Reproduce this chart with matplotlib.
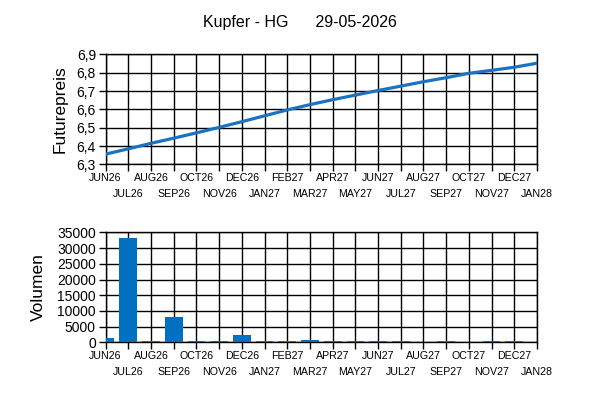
import matplotlib
matplotlib.use("Agg")
import matplotlib.pyplot as plt
from matplotlib.ticker import FuncFormatter, FixedLocator, FixedFormatter

plt.rcParams['font.family'] = ['Liberation Sans', 'DejaVu Sans']

months = ["JUN26", "JUL26", "AUG26", "SEP26", "OCT26", "NOV26", "DEC26", "JAN27",
          "FEB27", "MAR27", "APR27", "MAY27", "JUN27", "JUL27", "AUG27", "SEP27",
          "OCT27", "NOV27", "DEC27", "JAN28"]
prices = [6.356, 6.385, 6.415, 6.443, 6.472, 6.502, 6.533, 6.565, 6.597, 6.626,
          6.653, 6.678, 6.703, 6.727, 6.751, 6.773, 6.797, 6.813, 6.830, 6.852]
volumes = [1500, 33300, 450, 8000, 450, 450, 2300, 450, 450, 850,
           450, 450, 450, 450, 0, 450, 0, 450, 450, 0]
title = "Kupfer - HG      29-05-2026"

line_color = "#1a72c0"
bar_color = "#0070c0"

fig = plt.figure(figsize=(6, 4), dpi=100)
ax1 = fig.add_axes([0.176, 0.589, 0.719, 0.275])
ax2 = fig.add_axes([0.176, 0.144, 0.719, 0.275])

x = list(range(len(months)))
even_x = x[0::2]
odd_x = x[1::2]


def style_axis(ax):
    ax.set_xlim(0, len(months) - 1)
    ax.xaxis.set_major_locator(FixedLocator(even_x))
    ax.xaxis.set_major_formatter(FixedFormatter(months[0::2]))
    ax.xaxis.set_minor_locator(FixedLocator(odd_x))
    ax.xaxis.set_minor_formatter(FixedFormatter(months[1::2]))
    ax.grid(True, which="both", axis="x", color="black", linewidth=1.0)
    ax.grid(True, which="major", axis="y", color="black", linewidth=1.0)
    ax.set_axisbelow(True)
    ax.tick_params(axis='x', which='major', direction='out', length=5, width=1,
                   pad=1, labelsize=7.7)
    ax.tick_params(axis='x', which='minor', direction='out', length=5, width=1,
                   pad=13, labelsize=7.7)
    ax.tick_params(axis='y', direction='out', length=5, width=1, pad=2, labelsize=10)
    for s in ax.spines.values():
        s.set_color("black")
        s.set_linewidth(1.0)


ax1.plot(x, prices, color=line_color, linewidth=2.3, zorder=3)
style_axis(ax1)
ax1.set_ylim(6.3, 6.9)
ax1.set_yticks([6.3, 6.4, 6.5, 6.6, 6.7, 6.8, 6.9])
ax1.yaxis.set_major_formatter(FuncFormatter(lambda v, p: f"{v:.1f}".replace(".", ",")))
ax1.set_ylabel("Futurepreis", fontsize=12.5, labelpad=6.5)

ax2.bar(x, volumes, width=0.78, color=bar_color, zorder=3, clip_on=True)
style_axis(ax2)
ax2.set_ylim(0, 35000)
ax2.set_yticks(range(0, 35001, 5000))
ax2.set_ylabel("Volumen", fontsize=12.5, labelpad=8)

fig.text(0.5, 0.945, title, ha="center", va="center", fontsize=11.5)

fig.savefig("out.png", dpi=100)
